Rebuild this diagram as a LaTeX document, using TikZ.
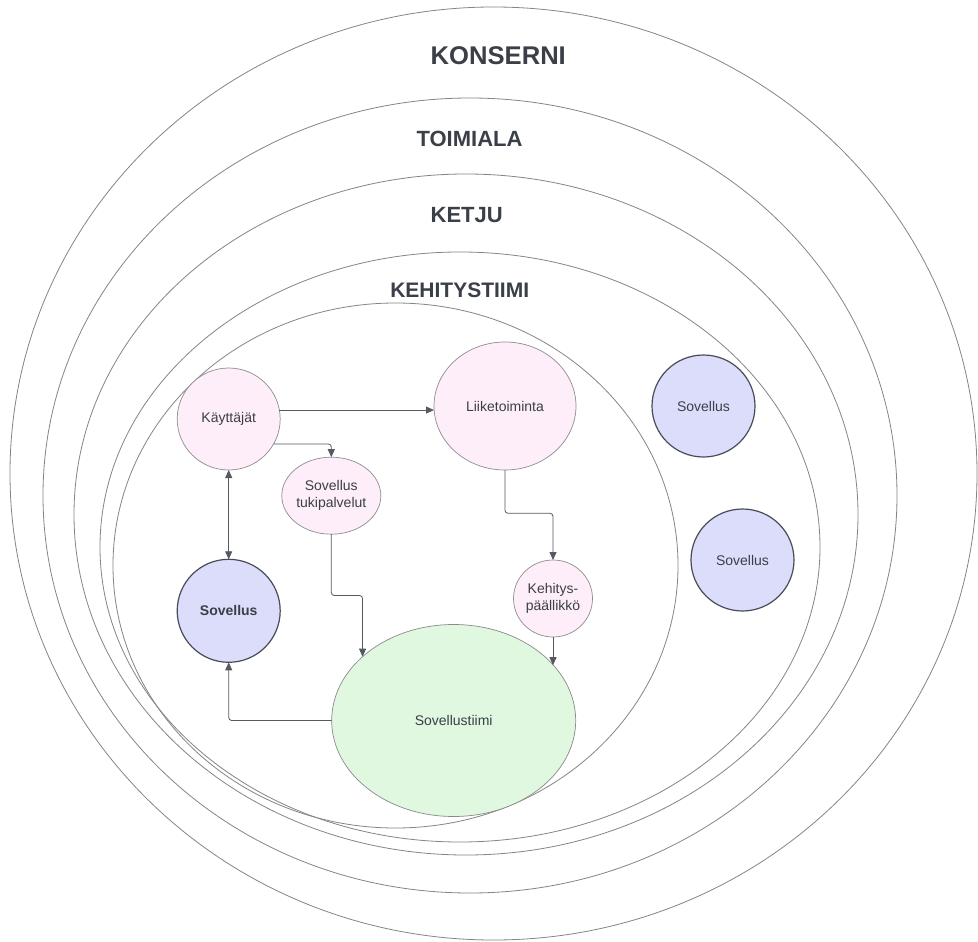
\documentclass[tikz,border=0pt]{standalone}
\usepackage{fontspec}
\setmainfont{Liberation Sans}
\usetikzlibrary{shapes.geometric,arrows.meta,calc}
\definecolor{ringc}{HTML}{858585}
\definecolor{txt}{HTML}{3A3F48}
\definecolor{pinkf}{HTML}{FDEEFA}
\definecolor{pinkd}{HTML}{8E8E8E}
\definecolor{bluef}{HTML}{DCDDFB}
\definecolor{blued}{HTML}{474C57}
\definecolor{greenf}{HTML}{E0F8E0}
\definecolor{greend}{HTML}{8A8A8A}
\definecolor{arrc}{HTML}{555A62}
\begin{document}
\begin{tikzpicture}[x=1pt,y=-1pt,
  ring/.style={ellipse, draw=ringc, line width=0.8pt, inner sep=0pt, outer sep=0pt},
  ttl/.style={font=\bfseries\fontsize{22}{26}\selectfont, text=txt, inner sep=0pt},
  nodetext/.style={font=\fontsize{14}{17}\selectfont, text=txt, align=center, inner sep=0pt, outer sep=0pt},
  pinkn/.style={ellipse, nodetext, draw=pinkd, fill=pinkf, line width=0.7pt},
  bluen/.style={ellipse, nodetext, draw=blued, fill=bluef, line width=1.2pt},
  greenn/.style={ellipse, nodetext, draw=greend, fill=greenf, line width=0.7pt},
  arr/.style={-{Triangle[length=8pt,width=7pt]}, draw=arrc, line width=0.8pt, rounded corners=3pt},
  arrboth/.style={{Triangle[length=8pt,width=7pt]}-{Triangle[length=8pt,width=7pt]}, draw=arrc, line width=0.8pt}
]
\fill[white] (0,0) rectangle (978,942);
\useasboundingbox (0,0) rectangle (978,942);

% nested rings
\node[ring, minimum width=967pt, minimum height=933pt] (konserni) at (493.5,473.5) {};
\node[ring, minimum width=854pt, minimum height=795pt] (toimiala) at (470,495.5) {};
\node[ring, minimum width=784pt, minimum height=681pt] (ketju) at (466,514.5) {};
\node[ring, minimum width=720pt, minimum height=590pt] (kehitystiimi) at (460,547) {};
\node[ring, minimum width=565pt, minimum height=525pt] (sisin) at (395.5,565.5) {};

% titles
\node[ttl, font=\bfseries\fontsize{25.6}{30}\selectfont] (tkonserni) at (498.3,56) {KONSERNI};
\node[ttl] (ttoimiala) at (469.5,138.7) {TOIMIALA};
\node[ttl] (tketju) at (466.7,215.3) {KETJU};
\node[ttl, font=\bfseries\fontsize{21}{25}\selectfont] (tkehitys) at (459.7,290.2) {KEHITYSTIIMI};

% nodes
\node[pinkn, minimum width=103pt, minimum height=102pt] (kay) at (228.7,419) {Käyttäjät};
\node[pinkn, minimum width=142pt, minimum height=128pt] (liik) at (505,406) {Liiketoiminta};
\node[pinkn, minimum width=76pt, minimum height=77pt] (tuki) at (331.3,495.7) {Sovellus\\tukipalvelut};
\node[bluen, minimum width=103pt, minimum height=103pt, font=\bfseries\fontsize{14}{17}\selectfont] (sov) at (228.7,610.8) {Sovellus};
\node[pinkn, minimum width=79pt, minimum height=77pt] (keh) at (553,598.5) {Kehitys-\\päällikkö};
\node[greenn, minimum width=244pt, minimum height=192pt] (tiimi) at (453.7,720.5) {Sovellustiimi};
\node[bluen, minimum width=103pt, minimum height=102pt] (sov1) at (703.5,406) {Sovellus};
\node[bluen, minimum width=103pt, minimum height=102pt] (sov2) at (742.5,560) {Sovellus};

% connectors
\draw[arr] (kay.10) -- (kay.10 -| liik.west);
\draw[arr] (kay.-29) -| (tuki.north);
\draw[arrboth] (kay.south) -- (sov.north);
\draw[arr] (liik.south) -- ++(0,43.3) -| (keh.north);
\draw[arr] (tuki.south) -- ++(0,61.3) -| (tiimi.145.5);
\draw[arr] (keh.south) -- (keh.south |- tiimi.29.7);
\draw[arr] (tiimi.west) -| (sov.south);
\end{tikzpicture}
\end{document}
